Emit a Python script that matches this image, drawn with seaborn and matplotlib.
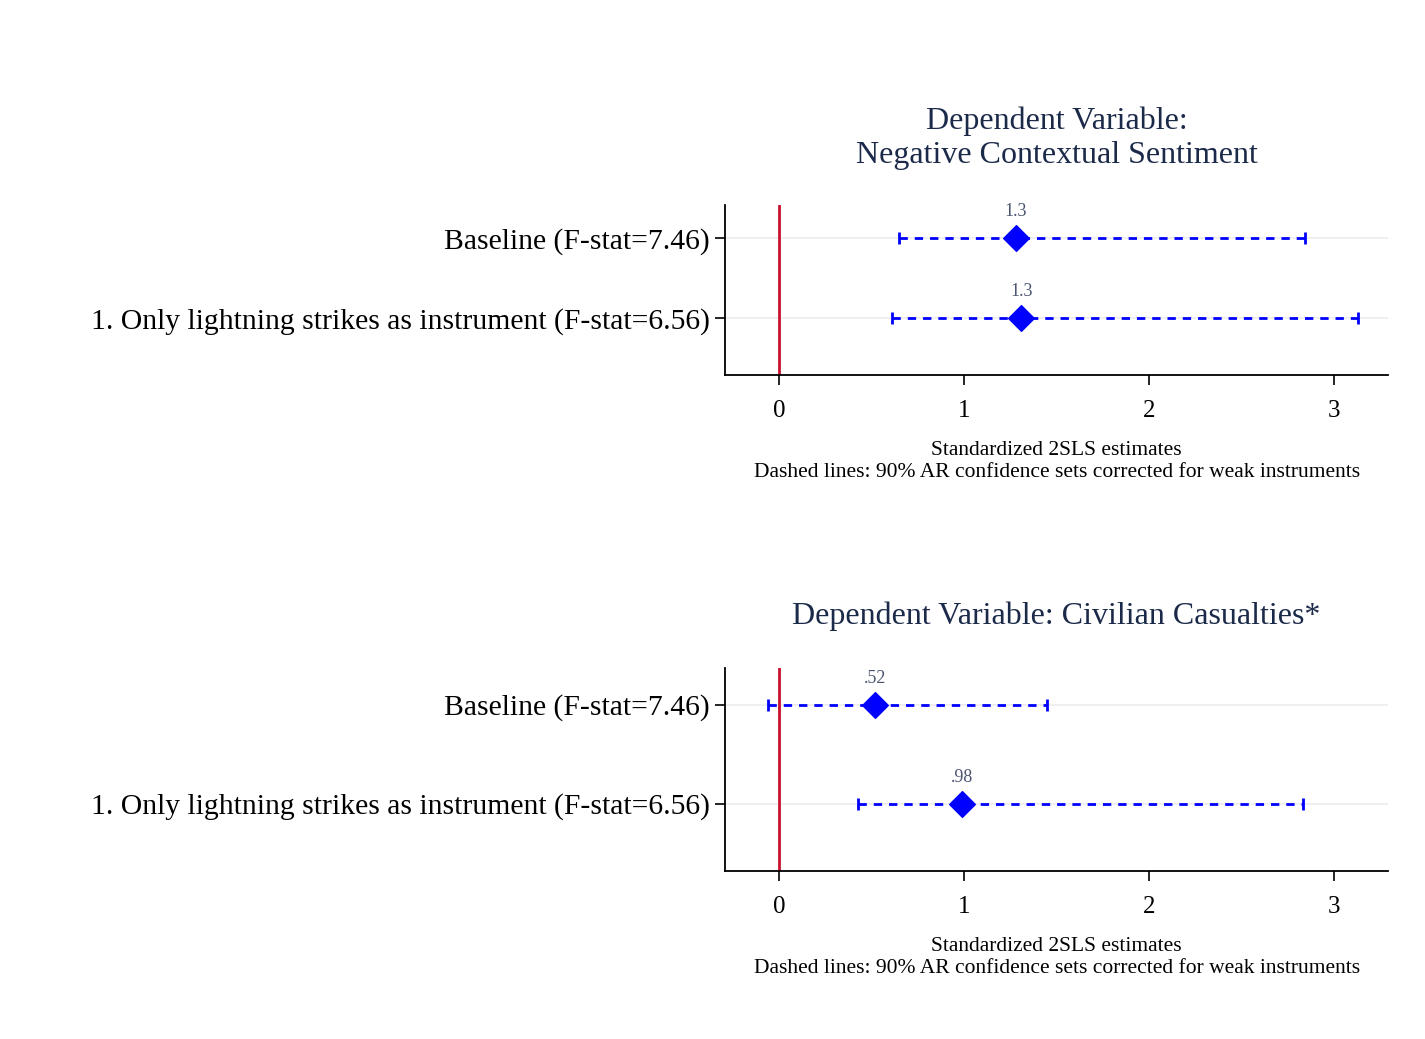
import matplotlib
matplotlib.use("Agg")
import matplotlib.pyplot as plt
import seaborn as sns
import pandas as pd
import numpy as np

sns.set_style("white")
plt.rcParams['font.family'] = ['Liberation Serif', 'DejaVu Serif']

# Data
rows = ["Baseline (F-stat=7.46)", "1. Only lightning strikes as instrument (F-stat=6.56)"]
titles = ["Dependent Variable:\nNegative Contextual Sentiment", "Dependent Variable: Civilian Casualties*"]
est_top = [1.28, 1.31]
lo_top = [0.65, 0.61]
hi_top = [2.84, 3.13]
lab_top = ["1.3", "1.3"]
est_bot = [0.52, 0.99]
lo_bot = [-0.06, 0.43]
hi_bot = [1.45, 2.83]
lab_bot = [".52", ".98"]
xticks = [0, 1, 2, 3]
xlabel = "Standardized 2SLS estimates\nDashed lines: 90% AR confidence sets corrected for weak instruments"

fig = plt.figure(figsize=(14.25, 10.39), dpi=100)
ax1 = fig.add_axes([0.5088, 0.6391, 0.4653, 0.1636])
ax2 = fig.add_axes([0.5088, 0.1617, 0.4653, 0.1954])

navy = "#1c2a4a"
blue = "#0000ff"

panels = [
    (ax1, titles[0], est_top, lo_top, hi_top, lab_top, (2.71, 0.59), 30),
    (ax2, titles[1], est_bot, lo_bot, hi_bot, lab_bot, (2.68, 0.63), 32),
]

for ax, title, est, lo, hi, labs, ylim, pad in panels:
    df = pd.DataFrame({"row": [1, 2], "est": est, "lo": lo, "hi": hi, "lab": labs})
    for yv in df["row"]:
        ax.axhline(yv, color="#ececec", lw=1.2, zorder=0)
    ax.axvline(0, color="#c8102e", lw=2, zorder=1)
    ax.hlines(df["row"], df["lo"], df["hi"], colors=blue, linestyles=(0, (3, 2.5)), lw=2, zorder=2)
    ax.plot(df["lo"], df["row"], linestyle="none", marker="|", markersize=8, mew=2, color=blue, zorder=2)
    ax.plot(df["hi"], df["row"], linestyle="none", marker="|", markersize=8, mew=2, color=blue, zorder=2)
    sns.scatterplot(data=df, x="est", y="row", marker="D", s=170, color=blue, edgecolor=blue, ax=ax, zorder=3)
    for _, r in df.iterrows():
        ax.annotate(r["lab"], (r["est"], r["row"]), xytext=(0, 13), textcoords="offset points",
                    ha="center", va="bottom", fontsize=13, color="#4a5570")
    ax.set_xlim(-0.29, 3.29)
    ax.set_ylim(*ylim)
    ax.set_yticks([1, 2])
    ax.set_yticklabels(rows, fontsize=21.3, color="black")
    ax.set_xticks(xticks)
    ax.set_xticklabels([str(t) for t in xticks], fontsize=18, color="black")
    ax.set_xlabel(xlabel, fontsize=15.5, color="black", labelpad=14, linespacing=1.2)
    ax.set_ylabel("")
    ax.set_title(title, fontsize=23, color=navy, pad=pad, linespacing=1.25)
    for s in ["top", "right"]:
        ax.spines[s].set_visible(False)
    for s in ["left", "bottom"]:
        ax.spines[s].set_color("black")
        ax.spines[s].set_linewidth(1.3)
    ax.tick_params(axis="both", which="both", direction="out", length=7, width=1.2, color="black",
                   left=True, bottom=True)
    ax.tick_params(axis="x", pad=11)
    ax.tick_params(axis="y", pad=4)

fig.savefig("out.png", dpi=100, facecolor="white")
